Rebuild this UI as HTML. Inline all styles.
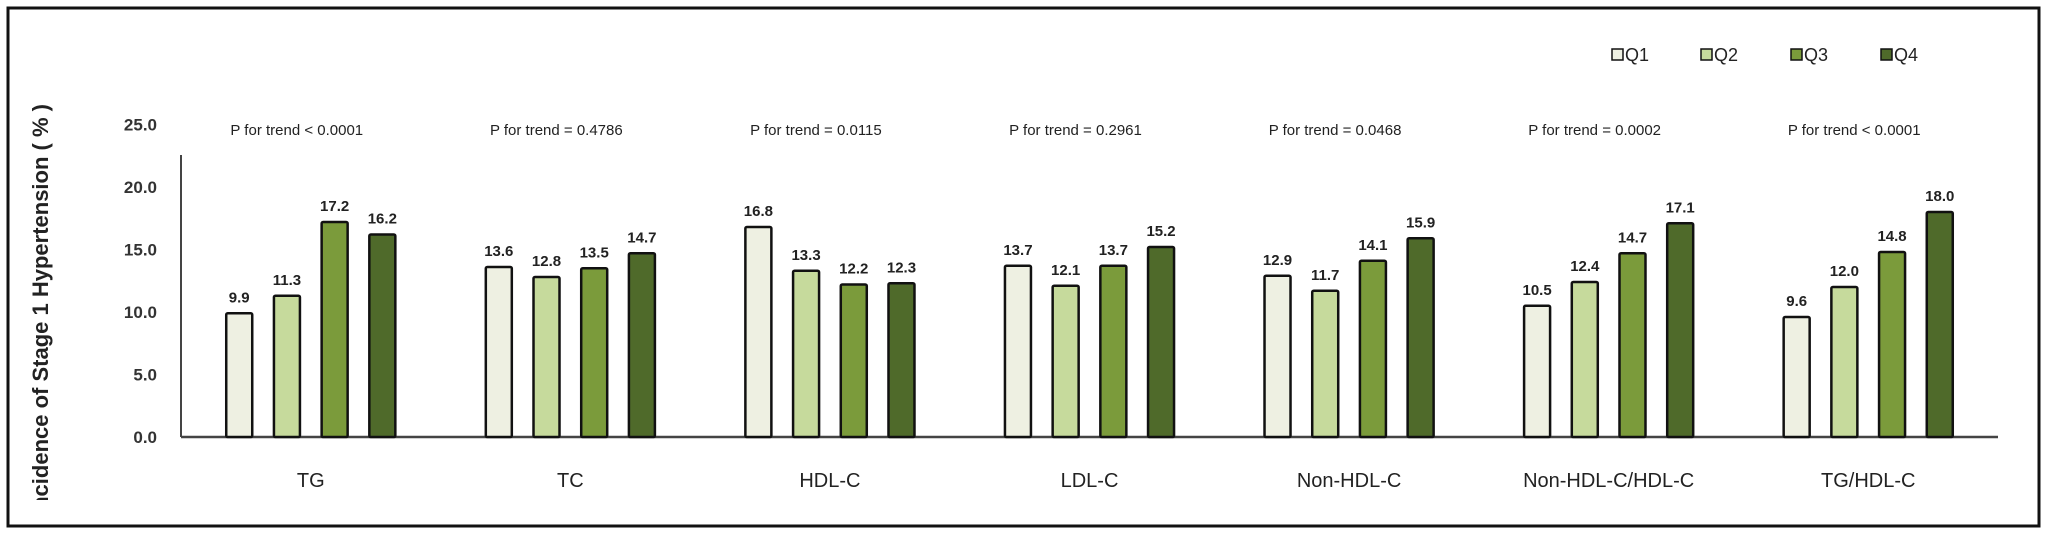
<!DOCTYPE html>
<html><head><meta charset="utf-8"><style>
html,body{margin:0;padding:0;background:#fff;}
svg{display:block;font-family:"Liberation Sans",sans-serif;}
</style></head><body>
<svg id="chart" width="2050" height="537" viewBox="0 0 2050 537" xmlns="http://www.w3.org/2000/svg">
<rect x="8" y="8" width="2031" height="518" fill="#fff" stroke="#111" stroke-width="3"/>
<defs><clipPath id="yclip"><rect x="0" y="0" width="200" height="500"/></clipPath></defs>
<g clip-path="url(#yclip)">
<text transform="translate(48,516) rotate(-90)" font-size="22" font-weight="bold" fill="#222">Incidence of Stage 1 Hypertension ( % )</text>
</g>
<g id="axes"></g>
<g id="bars"></g>
<g id="legend"></g>
</svg>
<script>
const categories = ["TG","TC","HDL-C","LDL-C","Non-HDL-C","Non-HDL-C/HDL-C","TG/HDL-C"];
const q1 = [9.9,13.6,16.8,13.7,12.9,10.5,9.6];
const q2 = [11.3,12.8,13.3,12.1,11.7,12.4,12.0];
const q3 = [17.2,13.5,12.2,13.7,14.1,14.7,14.8];
const q4 = [16.2,14.7,12.3,15.2,15.9,17.1,18.0];
const pTrend = ["P for trend < 0.0001","P for trend = 0.4786","P for trend = 0.0115","P for trend = 0.2961","P for trend = 0.0468","P for trend = 0.0002","P for trend < 0.0001"];
const seriesNames = ["Q1","Q2","Q3","Q4"];
const yTicks = [0,5,10,15,20,25];

const NS="http://www.w3.org/2000/svg";
const series=[q1,q2,q3,q4];
const colors=["#eef0e2","#c6da9c","#7b9b3b","#4f6a2a"];
const x0=181, x1=1998, y0=437, pxPerUnit=12.5;
const band=(x1-x0)/categories.length;
const yScale=v=>y0-v*pxPerUnit;
const xCenter=i=>x0+band*(i+0.5);
const barW=26, barPitch=47.7;
function mk(tag,attrs,parent,txt){const e=document.createElementNS(NS,tag);for(const k in attrs)e.setAttribute(k,attrs[k]);if(txt!==undefined)e.textContent=txt;parent.appendChild(e);return e;}
const axes=document.getElementById('axes'), bars=document.getElementById('bars'), legend=document.getElementById('legend');

yTicks.forEach(t=>{
  const e=mk('text',{x:157,y:yScale(t)+6,'text-anchor':'end','font-size':17,'font-weight':'bold',fill:'#333'},axes,t.toFixed(1));
  
  
});
const ya=mk('line',{x1:x0,y1:yScale(20)-32,x2:x0,y2:y0,stroke:'#444','stroke-width':2},axes);



categories.forEach((c,i)=>{
  const cx=xCenter(i);
  const start=cx-(3*barPitch+barW)/2;
  series.forEach((s,j)=>{
    const v=s[i], x=start+j*barPitch, y=yScale(v);
    const r=mk('rect',{x:x,y:y,width:barW,height:y0-y,fill:colors[j],stroke:'#111','stroke-width':2.5,rx:1.5},bars);
    
    
    const l=mk('text',{x:x+barW/2,y:y-11,'text-anchor':'middle','font-size':15,'font-weight':'bold',fill:'#222'},bars,v.toFixed(1));
    
    
  });
  const cl=mk('text',{x:cx,y:487,'text-anchor':'middle','font-size':20,fill:'#222'},axes,c);
  
  
  const p=mk('text',{x:cx-14,y:135,'text-anchor':'middle','font-size':15,fill:'#222'},axes,pTrend[i]);
  
  
});
const xa=mk('line',{x1:x0,y1:y0,x2:x1,y2:y0,stroke:'#444','stroke-width':2.5},axes);



const legX=[1612,1701,1791,1881];
seriesNames.forEach((n,j)=>{
  const sw=mk('rect',{x:legX[j],y:49,width:11,height:11,fill:colors[j],stroke:'#111','stroke-width':1.5},legend);
  
  
  const t=mk('text',{x:legX[j]+13,y:61,'font-size':18,fill:'#222'},legend,n);
  
  
});
</script>
</body></html>
